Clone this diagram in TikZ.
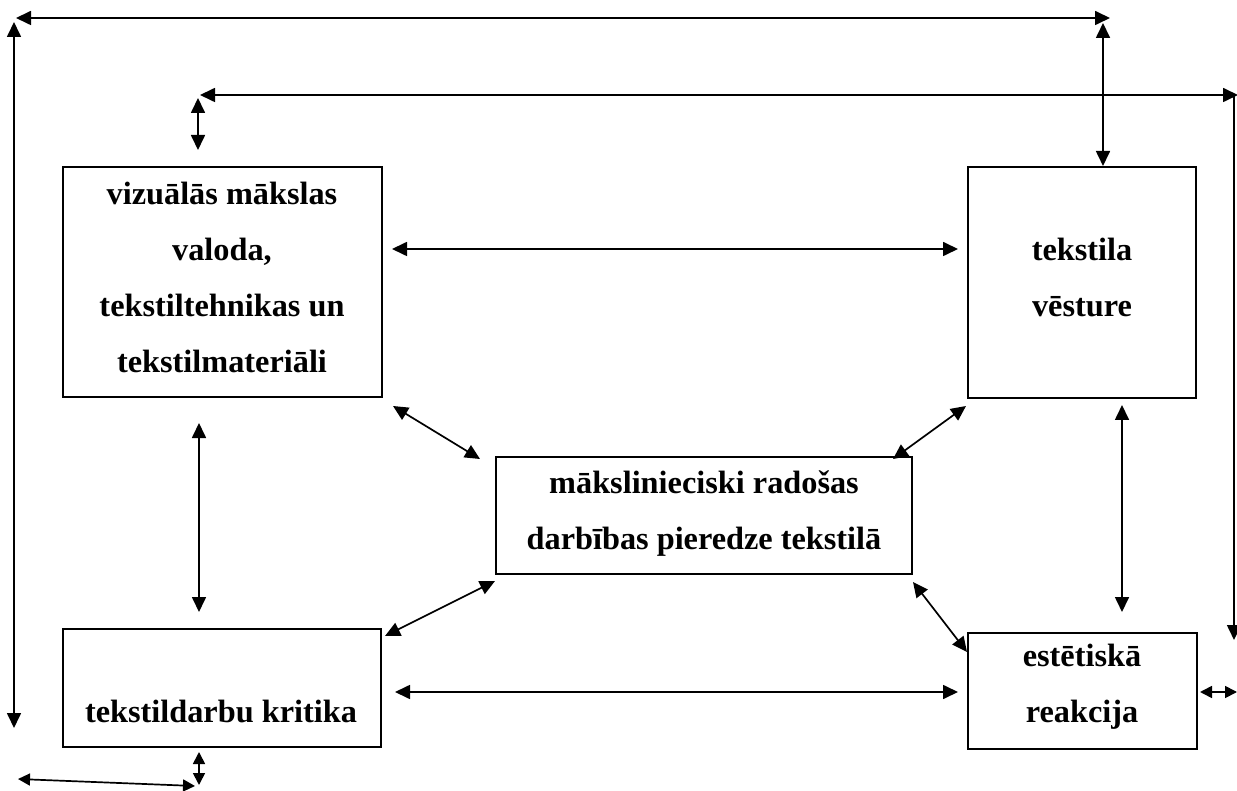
\documentclass[tikz,border=0pt]{standalone}
\usepackage{fontspec}
\setmainfont{Liberation Serif}
\usetikzlibrary{arrows.meta}
\begin{document}
\begin{tikzpicture}[x=1pt,y=-1pt,
  box/.style={draw, line width=1.5pt, rectangle, inner sep=0pt, outer sep=0pt},
  lbl/.style={font=\fontsize{32.3}{56}\selectfont\bfseries, align=center, inner sep=0pt},
  link/.style={line width=1.7pt, {Triangle[length=15pt,width=14pt]}-{Triangle[length=15pt,width=14pt]}},
  sink/.style={line width=1.7pt, -{Triangle[length=15pt,width=14pt]}},
  small/.style={line width=1.7pt, {Triangle[length=12pt,width=12pt]}-{Triangle[length=12pt,width=12pt]}}]
\useasboundingbox (0,0) rectangle (1237,791);
\fill[white] (0,0) rectangle (1237,791);

% boxes
\node[box, minimum width=319pt, minimum height=230pt] (A) at (222.5,282) {};
\node[box, minimum width=228pt, minimum height=231pt] (B) at (1082,282.5) {};
\node[box, minimum width=416pt, minimum height=117pt] (C) at (704,515.5) {};
\node[box, minimum width=318pt, minimum height=118pt] (D) at (222,688) {};
\node[box, minimum width=229pt, minimum height=116pt] (E) at (1082.5,691) {};

% labels
\node[lbl] (tA) at (222,277) {vizuālās mākslas\\valoda,\\tekstiltehnikas un\\tekstilmateriāli};
\node[lbl] (tB) at (1082,277) {tekstila\\vēsture};
\node[lbl] (tC) at (704,514) {mākslinieciski radošas\\darbības pieredze tekstilā};
\node[lbl] (tD) at (221,711) {tekstildarbu kritika};
\node[lbl] (tE) at (1082,687) {estētiskā\\reakcija};

% connector end points
\coordinate (ab1) at (392,249);  \coordinate (ab2) at (958,249);
\coordinate (de1) at (395,692);  \coordinate (de2) at (958,692);
\coordinate (ad1) at (199,423);  \coordinate (ad2) at (199,612);
\coordinate (be1) at (1122,405); \coordinate (be2) at (1122,612);
\coordinate (ac1) at (393,406);  \coordinate (ac2) at (480,459);
\coordinate (bc1) at (966,406);  \coordinate (bc2) at (893,459);
\coordinate (cd1) at (495,581);  \coordinate (cd2) at (385,636);
\coordinate (ce1) at (913,582);  \coordinate (ce2) at (967,652);

\draw[link] (ab1) -- (ab2);
\draw[link] (de1) -- (de2);
\draw[link] (ad1) -- (ad2);
\draw[link] (be1) -- (be2);
\draw[link] (ac1) -- (ac2);
\draw[link] (bc1) -- (bc2);
\draw[link] (cd1) -- (cd2);
\draw[link] (ce1) -- (ce2);

% outer loop 1
\coordinate (o1a) at (16,18);   \coordinate (o1b) at (1110,18);
\coordinate (o1c) at (14,22);   \coordinate (o1d) at (14,728);
\coordinate (o1e) at (1103,23); \coordinate (o1f) at (1103,166);
\draw[link] (o1a) -- (o1b);
\draw[link] (o1c) -- (o1d);
\draw[link] (o1e) -- (o1f);

% outer loop 2
\coordinate (o2a) at (200,95);  \coordinate (o2b) at (1238,95);
\coordinate (o2c) at (198,98);  \coordinate (o2d) at (198,150);
\coordinate (o2e) at (1234,95); \coordinate (o2f) at (1234,640);
\draw[link] (o2a) -- (o2b);
\draw[link] (o2c) -- (o2d);
\draw[sink] (o2e) -- (o2f);

% small arrows
\coordinate (r1) at (1200,692); \coordinate (r2) at (1237,692);
\draw[small] (r1) -- (r2);
\coordinate (b1) at (199,752); \coordinate (b2) at (199,785);
\draw[small] (b1) -- (b2);
\coordinate (b3) at (18,779); \coordinate (b4) at (195,786);
\draw[small] (b3) -- (b4);
\end{tikzpicture}
\end{document}
